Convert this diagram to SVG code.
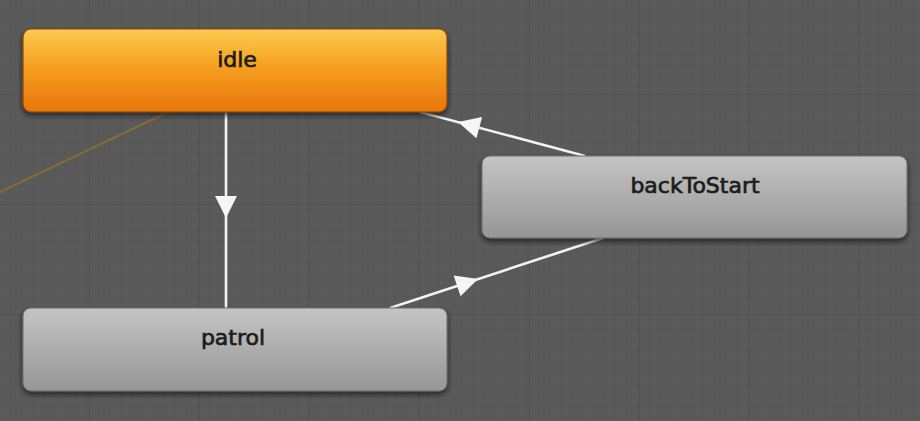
<svg xmlns="http://www.w3.org/2000/svg" width="920" height="421" viewBox="0 0 920 421">
  <defs>
    <pattern id="minor" width="11" height="11" patternUnits="userSpaceOnUse">
      <path d="M11,0 V11 M0,11 H11" stroke="#545454" stroke-width="1" fill="none"/>
    </pattern>
    <pattern id="major" width="110" height="110" patternUnits="userSpaceOnUse" x="-20" y="-15">
      <path d="M110,0 V110 M0,110 H110" stroke="#505050" stroke-width="1.5" fill="none"/>
    </pattern>
    <linearGradient id="gOrange" x1="0" y1="0" x2="0" y2="1">
      <stop offset="0" stop-color="#fccb50"/>
      <stop offset="0.45" stop-color="#f6a020"/>
      <stop offset="1" stop-color="#e8750c"/>
    </linearGradient>
    <linearGradient id="gGray" x1="0" y1="0" x2="0" y2="1">
      <stop offset="0" stop-color="#c4c4c4"/>
      <stop offset="1" stop-color="#969696"/>
    </linearGradient>
    <filter id="shadow" x="-5%" y="-10%" width="110%" height="130%">
      <feDropShadow dx="0" dy="3" stdDeviation="2.5" flood-color="#1e1e1e" flood-opacity="0.8"/>
    </filter>
    <path id="ah" d="M0,0 L-22,-11 L-22,11 Z"/>
    <style>
      .lbl { font-family: "DejaVu Sans", "Noto Sans", sans-serif; font-size: 22px; fill: #1c1c1c; stroke: #1c1c1c; stroke-width: 0.7; text-anchor: middle; }
      .edge { stroke: #f2f2f2; stroke-width: 2.6; fill: none; }
      .head { fill: #f5f5f5; }
      .gray { fill: url(#gGray); stroke: #6e6e6e; stroke-width: 1; filter: url(#shadow); }
    </style>
  </defs>

  <rect width="920" height="421" fill="#5a5a5a"/>
  <rect width="920" height="421" fill="url(#minor)"/>
  <rect width="920" height="421" fill="url(#major)"/>

  <line x1="0" y1="192" x2="168" y2="112" stroke="#8a6b30" stroke-width="2"/>

  <g id="connectors">
    <line class="edge" x1="226" y1="112" x2="226" y2="308"/>
    <use href="#ah" class="head" transform="translate(226,218) rotate(90)"/>
    <line class="edge" x1="585" y1="156" x2="420" y2="112"/>
    <use href="#ah" class="head" transform="translate(458,122) rotate(194.9)"/>
    <line class="edge" x1="390" y1="308" x2="603" y2="238"/>
    <use href="#ah" class="head" transform="translate(478,279) rotate(-18.2)"/>
  </g>

  <g id="idle">
    <rect x="23" y="29" width="424" height="83" rx="8" fill="url(#gOrange)" stroke="#8a4708" stroke-width="1.2" filter="url(#shadow)"/>
    <text class="lbl" x="237" y="67">idle</text>
  </g>

  <g id="backToStart">
    <rect class="gray" x="482" y="156" width="425" height="82" rx="8"/>
    <text class="lbl" x="695" y="193">backToStart</text>
  </g>

  <g id="patrol">
    <rect class="gray" x="23" y="308" width="424" height="83" rx="8"/>
    <text class="lbl" x="233" y="345">patrol</text>
  </g>
</svg>
